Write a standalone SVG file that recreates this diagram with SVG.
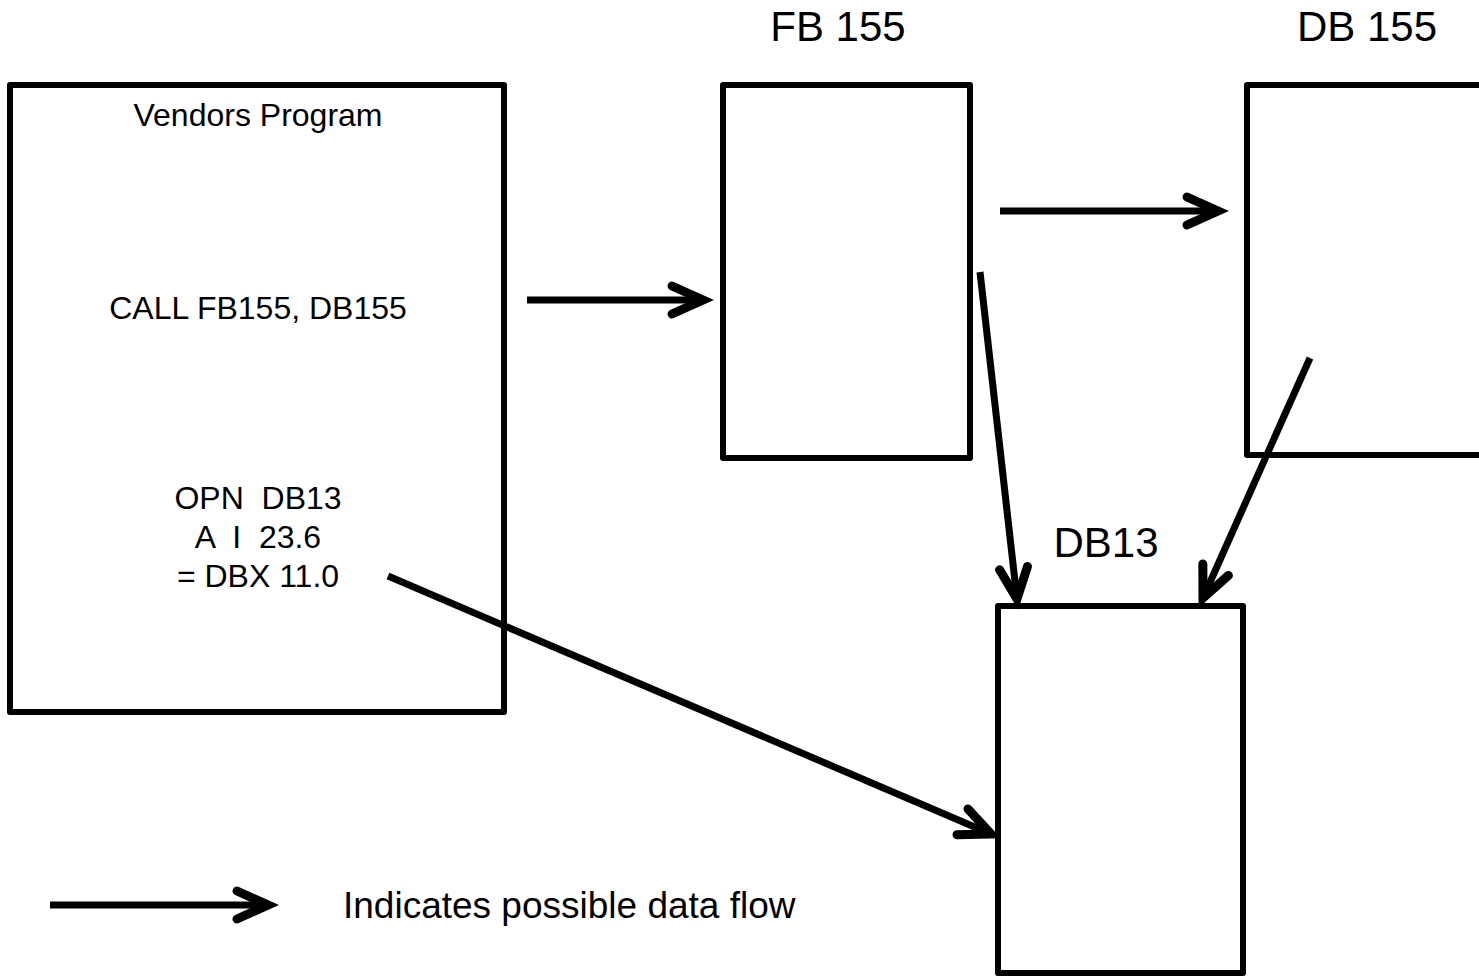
<svg xmlns="http://www.w3.org/2000/svg" width="1479" height="978" viewBox="0 0 1479 978">
<style>
.box{fill:#fff;stroke:#000;stroke-width:6;stroke-linejoin:round}
.lbl{font-family:"Liberation Sans",Arial,sans-serif;fill:#000;text-anchor:middle}
.con{stroke:#000;stroke-width:7;fill:none}
</style>
<defs>
<marker id="ah" markerUnits="userSpaceOnUse" viewBox="-40 -20 50 40" markerWidth="50" markerHeight="40" refX="0" refY="0" orient="auto" overflow="visible">
<path d="M-31,-14 L0,0 L-31,14" fill="none" stroke="#000" stroke-width="9" stroke-linecap="round" stroke-linejoin="miter"/>
</marker>
</defs>
<rect width="1479" height="978" fill="#fff"/>
<g id="vendors">
<rect class="box" x="10" y="85" width="494" height="627"/>
<text class="lbl" x="258" y="126" font-size="32">Vendors Program</text>
<text class="lbl" x="258" y="319" font-size="32">CALL FB155, DB155</text>
<text class="lbl" x="258" y="509" font-size="32" xml:space="preserve">OPN  DB13</text>
<text class="lbl" x="258" y="548" font-size="32" xml:space="preserve">A  I  23.6</text>
<text class="lbl" x="258" y="587" font-size="32">= DBX 11.0</text>
</g>
<g id="fb155">
<rect class="box" x="723" y="85" width="247" height="373"/>
<text class="lbl" x="838" y="41" font-size="42">FB 155</text>
</g>
<g id="db155">
<rect class="box" x="1247" y="85" width="260" height="370"/>
<text class="lbl" x="1367" y="41" font-size="42">DB 155</text>
</g>
<g id="db13">
<rect class="box" x="998" y="606" width="245" height="367"/>
<text class="lbl" x="1106" y="557" font-size="42">DB13</text>
</g>
<g id="connectors">
<line class="con" x1="527" y1="300" x2="703" y2="300" marker-end="url(#ah)"/>
<line class="con" x1="1000" y1="211" x2="1218" y2="211" marker-end="url(#ah)"/>
<line class="con" x1="980" y1="272" x2="1017" y2="599" marker-end="url(#ah)"/>
<line class="con" x1="1310" y1="358" x2="1203" y2="598" marker-end="url(#ah)"/>
<line class="con" x1="388" y1="576" x2="991" y2="834" marker-end="url(#ah)"/>
</g>
<g id="legend">
<line class="con" x1="50" y1="905" x2="268" y2="905" marker-end="url(#ah)"/>
<text x="343" y="918" font-size="37" font-family="Liberation Sans, Arial, sans-serif">Indicates possible data flow</text>
</g>
</svg>
